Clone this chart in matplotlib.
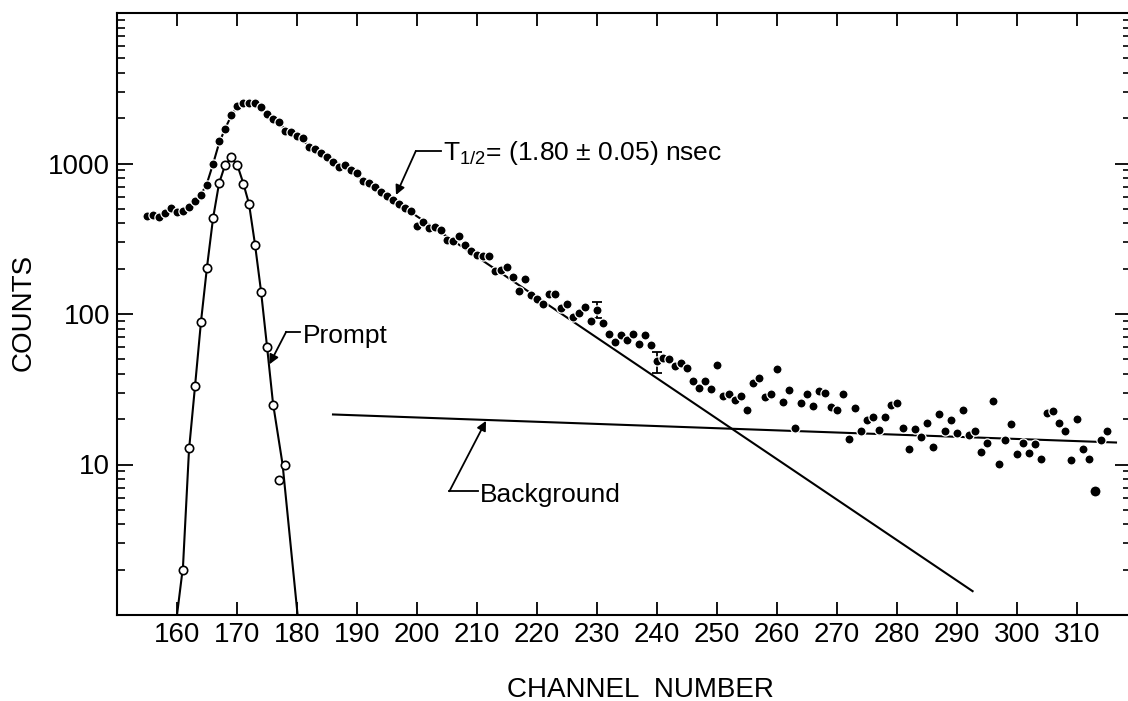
import numpy as np
import matplotlib
matplotlib.use("Agg")
import matplotlib.pyplot as plt
from matplotlib.ticker import FixedLocator, LogLocator, NullLocator, FuncFormatter

plt.rcParams['font.family'] = ['Liberation Sans', 'DejaVu Sans']
plt.rcParams['mathtext.fontset'] = 'custom'
plt.rcParams['mathtext.rm'] = 'Liberation Sans'
plt.rcParams['mathtext.it'] = 'Liberation Sans'
plt.rcParams['mathtext.default'] = 'regular'

# delayed spectrum (filled dots), one value per channel starting at 155
first_channel = 155
delayed_counts = [
    445, 454, 443, 472, 507,                                          # 155-159
    477, 484, 515, 562, 616, 717, 988, 1409, 1698, 2103,              # 160-169
    2427, 2528, 2528, 2541, 2377, 2128, 1972, 1875, 1648, 1610,       # 170-179
    1514, 1483, 1280, 1247, 1179, 1104, 1018, 944, 973, 912,          # 180-189
    861, 769, 739, 695, 650, 612, 573, 537, 510, 480,                 # 190-199
    385, 410, 374, 376, 359, 311, 307, 331, 288, 263,                 # 200-209
    245, 244, 243, 193, 197, 206, 177, 143, 172, 133,                 # 210-219
    125, 116, 136, 135, 109, 117, 95, 101, 112, 90,                   # 220-229
    107, 86.5, 74, 65, 72, 67, 74, 63.5, 72, 62,                      # 230-239
    49, 51, 50.5, 45, 47.5, 44, 35.7, 32.4, 36, 31.6,                 # 240-249
    45.6, 28.4, 29.5, 26.7, 28.7, 23, 34.7, 37.8, 27.9, 29.3,         # 250-259
    42.9, 26.2, 31.5, 17.6, 25.6, 29.3, 24.3, 30.8, 29.9, 24.1,       # 260-269
    23, 29.2, 14.8, 23.9, 16.8, 19.7, 20.6, 16.9, 20.6, 24.7,         # 270-279
    25.6, 17.4, 12.7, 17.1, 15.3, 18.9, 13.1, 21.6, 16.7, 19.8,       # 280-289
    16.2, 22.9, 15.7, 16.6, 12.2, 13.9, 26.6, 10.1, 14.6, 18.7,       # 290-299
    11.7, 13.9, 11.9, 13.7, 10.8, 22, 22.5, 18.9, 16.7, 10.7,         # 300-309
    20.1, 12.7, 10.9, 6.7, 14.6, 16.7,                                # 310-315
]
delayed_channels = list(range(first_channel, first_channel + len(delayed_counts)))
big_dot_channel = 313

# error bars shown on two points
err_channels = [230, 240]
err_low = [94, 40.8]
err_high = [120, 55.8]

# prompt spectrum (open circles)
prompt_channels = [161, 162, 163, 164, 165, 166, 167, 168, 169,
                   170, 171, 172, 173, 174, 175, 176, 177, 178]
prompt_counts = [2.0, 12.9, 33, 89, 203, 434, 739, 973, 1099,
                 982, 735, 539, 286, 141, 60, 24.9, 7.9, 10]

# hand-drawn curve through the prompt points
prompt_curve_ch = [160, 161, 162, 163, 164, 165, 166, 167, 168, 169,
                   170, 171, 172, 173, 174, 175, 176, 177.6, 180.1]
prompt_curve_counts = [1.0, 2.1, 12.5, 33, 89, 205, 430, 735, 975, 1090,
                       990, 750, 540, 290, 142, 61, 25.5, 10, 1.0]

# curve through the delayed peak, then the straight exponential decay
fit_ch = [163, 164, 165, 166, 167, 168, 169, 170, 171, 172, 173, 174,
          175, 176, 178, 180, 182, 184, 186, 188, 292.6]
fit_counts = [555, 620, 740, 990, 1360, 1700, 2060, 2380, 2540, 2580, 2520, 2370,
              2170, 1990, 1700, 1510, 1320, 1180, 1050, 937, 1.44]

# background line
bg_ch = [186, 316.5]
bg_counts = [21.5, 14.0]

x_ticks = list(range(160, 320, 10))

fig = plt.figure(figsize=(11.28, 7.01), dpi=100)
ax = fig.add_axes([117 / 1128, 86 / 701, 1014 / 1128, 602 / 701])

ax.plot(prompt_curve_ch, prompt_curve_counts, color='black', lw=1.5, zorder=1)
ax.plot(fit_ch, fit_counts, color='black', lw=1.5, zorder=1)
ax.plot(bg_ch, bg_counts, color='black', lw=1.5, zorder=1)

ax.plot(prompt_channels, prompt_counts, 'o', ms=6.0, mfc='white', mec='black',
        mew=1.2, zorder=3)
ax.plot(delayed_channels, delayed_counts, 'o', ms=6.6, mfc='black', mec='white',
        mew=0.9, zorder=3)
i_big = delayed_channels.index(big_dot_channel)
ax.plot(delayed_channels[i_big], delayed_counts[i_big], 'o', ms=8.0, mfc='black',
        mec='white', mew=0.9, zorder=4)

err_vals = [delayed_counts[delayed_channels.index(c)] for c in err_channels]
yerr = [np.array(err_vals) - np.array(err_low), np.array(err_high) - np.array(err_vals)]
ax.errorbar(err_channels, err_vals, yerr=yerr, fmt='none', ecolor='black',
            elinewidth=1.3, capsize=3.5, capthick=1.3, zorder=2)

ax.set_yscale('log')
ax.set_xlim(150, 319)
ax.set_ylim(1, 10000)

ax.xaxis.set_major_locator(FixedLocator(x_ticks))
ax.xaxis.set_minor_locator(NullLocator())
ax.yaxis.set_major_locator(LogLocator(base=10))
ax.yaxis.set_minor_locator(LogLocator(base=10, subs=np.arange(2, 10)))
ax.yaxis.set_major_formatter(FuncFormatter(
    lambda v, p: f"{v:.0f}" if v in (10, 100, 1000) else ""))
ax.yaxis.set_minor_formatter(FuncFormatter(lambda v, p: ""))

ax.tick_params(axis='x', which='major', direction='in', length=9.5, width=1.3,
               top=True, labeltop=False, labelsize=20, pad=5)
ax.tick_params(axis='y', which='major', direction='in', length=11.5, width=1.3,
               right=True, labelsize=20, pad=5)
ax.tick_params(axis='y', which='minor', direction='in', length=6, width=1.2,
               right=True)
for s in ax.spines.values():
    s.set_linewidth(1.5)

ax.set_ylabel('COUNTS', fontsize=20, va='center')
ax.yaxis.set_label_coords(-0.092, 0.503)
ax.set_xlabel('CHANNEL  NUMBER', fontsize=20)
ax.xaxis.set_label_coords(0.516, -0.125)
ax.xaxis.label.set_va('center')

arrow = dict(arrowstyle='-|>', color='black', lw=1.3, mutation_scale=14,
             shrinkA=0, shrinkB=0)

# half-life label
ax.plot([199.8, 204.0], [1210, 1210], color='black', lw=1.3)
ax.annotate('', xy=(196.5, 618), xytext=(199.8, 1210), arrowprops=arrow)
ax.text(204.3, 1055, r'T$_{1/2}$= (1.80 ± 0.05) nsec', fontsize=19,
        ha='left', va='baseline')

# prompt label
ax.plot([178.2, 180.55], [76.2, 76.2], color='black', lw=1.3)
ax.annotate('', xy=(175.4, 46.3), xytext=(178.2, 76.2), arrowprops=arrow)
ax.text(180.95, 64.4, 'Prompt', fontsize=19, ha='left', va='baseline')

# background label
ax.plot([205.4, 210.1], [6.64, 6.64], color='black', lw=1.3)
ax.annotate('', xy=(211.5, 19.5), xytext=(205.4, 6.64), arrowprops=arrow)
ax.text(210.4, 5.62, 'Background', fontsize=19, ha='left', va='baseline')

fig.savefig('out.png', dpi=100)
